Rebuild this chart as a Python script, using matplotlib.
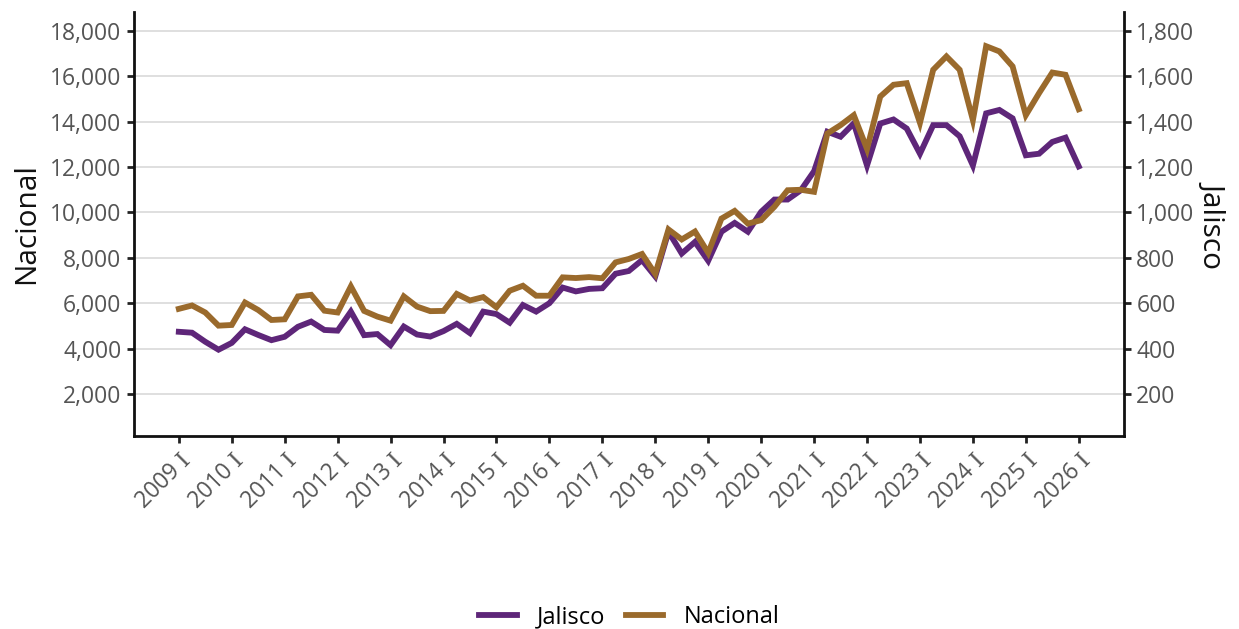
import matplotlib
matplotlib.use("Agg")
import matplotlib.pyplot as plt
from matplotlib.ticker import FuncFormatter, FixedLocator

plt.rcParams['font.family'] = ['Open Sans', 'DejaVu Sans']
plt.rcParams['mathtext.fontset'] = 'dejavuserif'

years = list(range(2009, 2027))
periods = [f"{y} {q}" for y in years for q in ["I", "II", "III", "IV"]][:69]
tick_labels = [f"{y} I" for y in years]

nacional = [5750, 5900, 5590, 5010, 5040, 6030, 5700, 5260, 5290, 6300,
            6370, 5670, 5590, 6740, 5660, 5410, 5230, 6300, 5850, 5650,
            5660, 6410, 6120, 6270, 5820, 6550, 6770, 6330, 6330, 7140,
            7110, 7150, 7100, 7800, 7950, 8170, 7290, 9250, 8810, 9160,
            8220, 9730, 10070, 9510, 9660, 10250, 10980, 11000, 10910, 13480,
            13850, 14290, 12800, 15110, 15630, 15700, 13950, 16290, 16880, 16290,
            14070, 17330, 17100, 16440, 14290, 15260, 16170, 16070, 14550]

jalisco = [474, 470, 430, 395, 425, 485, 460, 437, 452, 496,
           519, 482, 479, 563, 459, 464, 415, 497, 462, 453,
           477, 509, 468, 563, 552, 514, 592, 563, 600, 669,
           652, 663, 666, 730, 742, 790, 718, 915, 819, 870,
           787, 915, 954, 915, 1003, 1057, 1057, 1098, 1182, 1356,
           1334, 1393, 1207, 1392, 1410, 1370, 1259, 1385, 1385, 1336,
           1207, 1437, 1452, 1415, 1252, 1259, 1311, 1330, 1203]

left_ticks = [2000, 4000, 6000, 8000, 10000, 12000, 14000, 16000, 18000]
right_ticks = [200, 400, 600, 800, 1000, 1200, 1400, 1600, 1800]

c_jal = "#5e2679"
c_nac = "#9a6a2c"
tick_col = "#555555"

fig = plt.figure(figsize=(12.39, 6.29), dpi=100)
ax = fig.add_axes([0.108, 0.307, 0.799, 0.674])
ax2 = ax.twinx()
ax.set_zorder(ax2.get_zorder() + 1)
ax.patch.set_visible(False)

x = list(range(len(periods)))
l2, = ax2.plot(x, jalisco, color=c_jal, lw=4.2, solid_joinstyle='miter', label="Jalisco")
l1, = ax.plot(x, nacional, color=c_nac, lw=4.2, solid_joinstyle='miter', label="Nacional")

ax.set_xlim(-3.4, 71.4)
ax.set_ylim(150, 18840)
ax2.set_ylim(15, 1884)

ax.yaxis.set_major_locator(FixedLocator(left_ticks))
ax2.yaxis.set_major_locator(FixedLocator(right_ticks))
fmt = FuncFormatter(lambda v, p: f"{v:,.0f}")
ax.yaxis.set_major_formatter(fmt)
ax2.yaxis.set_major_formatter(fmt)

xt = [periods.index(t) for t in tick_labels]
ax.set_xticks(xt)
ax.set_xticklabels([t.replace(" I", r" $\mathrm{I}$") for t in tick_labels],
                   rotation=45, ha='right', rotation_mode='anchor')

ax2.grid(axis='y', color='#d9d9d9', lw=1.2)
ax2.set_axisbelow(True)
ax.grid(False)

for a in (ax, ax2):
    for s in a.spines.values():
        s.set_visible(False)
    a.tick_params(axis='both', labelsize=16.5, labelcolor=tick_col, color='#222222',
                  width=2, length=5, pad=4)

ax.spines['left'].set_visible(True)
ax.spines['bottom'].set_visible(True)
ax2.spines['right'].set_visible(True)
for s in (ax.spines['left'], ax.spines['bottom'], ax2.spines['right']):
    s.set_linewidth(2)
    s.set_color('#111111')

ax.set_ylabel("Nacional", fontsize=21.5, color='#111111', labelpad=6)
ax2.set_ylabel("Jalisco", fontsize=21.5, color='#111111', rotation=270, labelpad=24)

fig.legend([l2, l1], ["Jalisco", "Nacional"], loc='center', bbox_to_anchor=(0.508, 0.019),
           ncol=2, frameon=False, fontsize=17, handlelength=1.6, columnspacing=0.85,
           handletextpad=0.85)

fig.savefig("out.png", dpi=100)
